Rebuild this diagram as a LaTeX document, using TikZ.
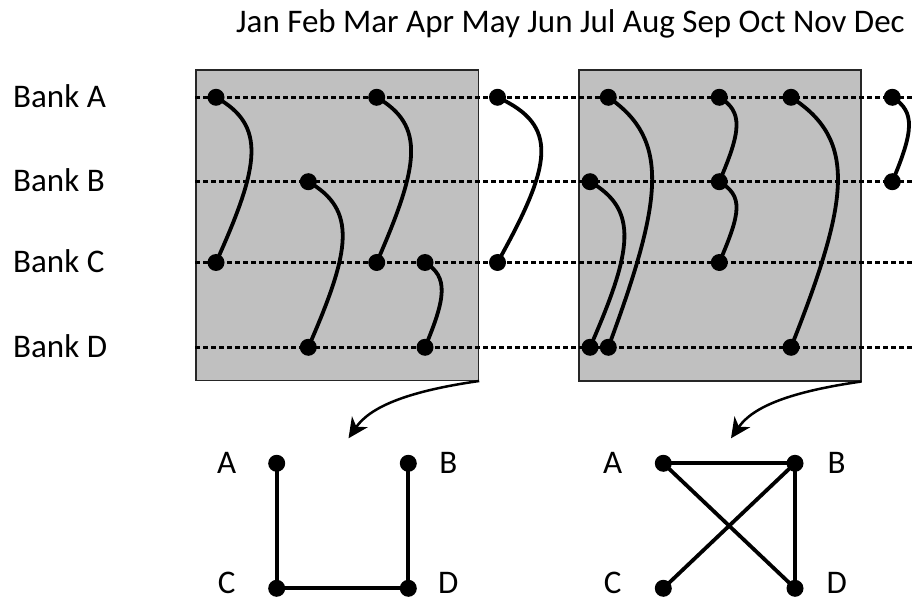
\documentclass[tikz,border=0pt]{standalone}
\usepackage{fontspec}
\setmainfont{Carlito}
\usetikzlibrary{arrows.meta}
\definecolor{boxgray}{RGB}{192,192,192}
\begin{document}
\begin{tikzpicture}[x=1pt,y=-1pt,
  dot/.style={circle,fill=black,inner sep=0pt,minimum size=17pt},
  lbl/.style={font=\fontsize{33}{40}\selectfont,inner sep=0pt},
  frame/.style={draw=black!85,line width=1.5pt,fill=boxgray,inner sep=0pt,anchor=north west},
  timeline/.style={draw=black,line width=2.6pt,dash pattern=on 5pt off 3pt},
  link/.style={draw=black,line width=3.8pt},
  flow/.style={draw=black,line width=2.5pt,-{Stealth[length=20pt,width=19pt,inset=6pt]}},
  edge/.style={draw=black,line width=3.8pt}]
\useasboundingbox (0,0) rectangle (912,601);

% labels
\node[lbl,anchor=base west] (months) at (236,33) {Jan Feb Mar Apr May Jun Jul Aug Sep Oct Nov Dec};
\node[lbl,anchor=base west] (bankA) at (13,107.5) {Bank A};
\node[lbl,anchor=base west] (bankB) at (13,192) {Bank B};
\node[lbl,anchor=base west] (bankC) at (13,273) {Bank C};
\node[lbl,anchor=base west] (bankD) at (13,357.5) {Bank D};

% boxes
\node[frame,minimum width=282.7pt,minimum height=310pt] (box1) at (195,69.5) {};
\node[frame,minimum width=281.7pt,minimum height=310.5pt] (box2) at (578.3,69.5) {};

% dashed timelines
\coordinate (lA0) at (195,97.3);  \coordinate (lA1) at (912,97.3);
\coordinate (lB0) at (195,181.7); \coordinate (lB1) at (912,181.7);
\coordinate (lC0) at (195,262.5); \coordinate (lC1) at (912,262.5);
\coordinate (lD0) at (195,347.3); \coordinate (lD1) at (912,347.3);
\draw[timeline] (lA0) -- (lA1);
\draw[timeline] (lB0) -- (lB1);
\draw[timeline] (lC0) -- (lC1);
\draw[timeline] (lD0) -- (lD1);

% dots
\node[dot] (janA) at (216,97.3) {};
\node[dot] (janC) at (216,262.5) {};
\node[dot] (febB) at (308.3,181.7) {};
\node[dot] (febD) at (308.3,347.3) {};
\node[dot] (marA) at (376.7,97.3) {};
\node[dot] (marC) at (376.7,262.5) {};
\node[dot] (aprC) at (425,262.5) {};
\node[dot] (aprD) at (425,347.3) {};
\node[dot] (mayA) at (497.5,97.3) {};
\node[dot] (mayC) at (497.5,262.5) {};
\node[dot] (julB) at (590,181.7) {};
\node[dot] (julD) at (590,347.3) {};
\node[dot] (julA) at (608.3,97.3) {};
\node[dot] (julE) at (608.3,347.3) {};
\node[dot] (sepA) at (719.3,97.3) {};
\node[dot] (sepB) at (719.3,181.7) {};
\node[dot] (sepC) at (719.3,262.5) {};
\node[dot] (octA) at (791,97.3) {};
\node[dot] (octD) at (791,347.3) {};
\node[dot] (decA) at (892.3,97.3) {};
\node[dot] (decB) at (892.3,181.7) {};

% curved links
\draw[link] (janA.center) .. controls +(50.3,28.2) and +(44.2,-97.9) .. (janC.center);
\draw[link] (marA.center) .. controls +(48.8,28.2) and +(42.9,-97.9) .. (marC.center);
\draw[link] (febB.center) .. controls +(48.8,28.2) and +(42.9,-97.9) .. (febD.center);
\draw[link] (aprC.center) .. controls +(23.7,14.3) and +(20.8,-49.6) .. (aprD.center);
\draw[link] (mayA.center) .. controls +(62.2,28.2) and +(54.6,-97.9) .. (mayC.center);
\draw[link] (julB.center) .. controls +(48.8,28.2) and +(42.9,-97.9) .. (julD.center);
\draw[link] (julA.center) .. controls +(62.2,42.5) and +(54.6,-147.5) .. (julE.center);
\draw[link] (sepA.center) .. controls +(24.4,14.5) and +(21.5,-50.2) .. (sepB.center);
\draw[link] (sepB.center) .. controls +(24.4,14.5) and +(21.5,-50.2) .. (sepC.center);
\draw[link] (octA.center) .. controls +(66.6,42.5) and +(58.5,-147.5) .. (octD.center);
\draw[link] (decA.center) .. controls +(23.7,14.3) and +(20.8,-49.6) .. (decB.center);

% arrows to graphs
\coordinate (tip1) at (348.5,438.3);
\coordinate (tip2) at (731,438.3);
\draw[flow] (box1.south east) .. controls +(-70,10) and +(22,-32) .. (tip1);
\draw[flow] (box2.south east) .. controls +(-70,10) and +(22,-32) .. (tip2);

% graph 1
\node[dot] (g1A) at (276.7,463.3) {};
\node[dot] (g1B) at (408.3,463.3) {};
\node[dot] (g1C) at (276.7,588.3) {};
\node[dot] (g1D) at (408.3,588.3) {};
\draw[edge] (g1A.center) -- (g1C.center);
\draw[edge] (g1B.center) -- (g1D.center);
\draw[edge] (g1C.center) -- (g1D.center);
\node[lbl,anchor=base] (t1A) at (226.7,473.3) {A};
\node[lbl,anchor=base] (t1B) at (448.3,473.3) {B};
\node[lbl,anchor=base] (t1C) at (226.7,593.3) {C};
\node[lbl,anchor=base] (t1D) at (448.3,593.3) {D};

% graph 2
\node[dot] (g2A) at (663.3,463.3) {};
\node[dot] (g2B) at (795,463.3) {};
\node[dot] (g2C) at (663.3,588.3) {};
\node[dot] (g2D) at (795,588.3) {};
\draw[edge] (g2A.center) -- (g2B.center);
\draw[edge] (g2A.center) -- (g2D.center);
\draw[edge] (g2B.center) -- (g2C.center);
\draw[edge] (g2B.center) -- (g2D.center);
\node[lbl,anchor=base] (t2A) at (612.7,473.3) {A};
\node[lbl,anchor=base] (t2B) at (836.7,473.3) {B};
\node[lbl,anchor=base] (t2C) at (612.7,593.3) {C};
\node[lbl,anchor=base] (t2D) at (836.7,593.3) {D};
\end{tikzpicture}
\end{document}
